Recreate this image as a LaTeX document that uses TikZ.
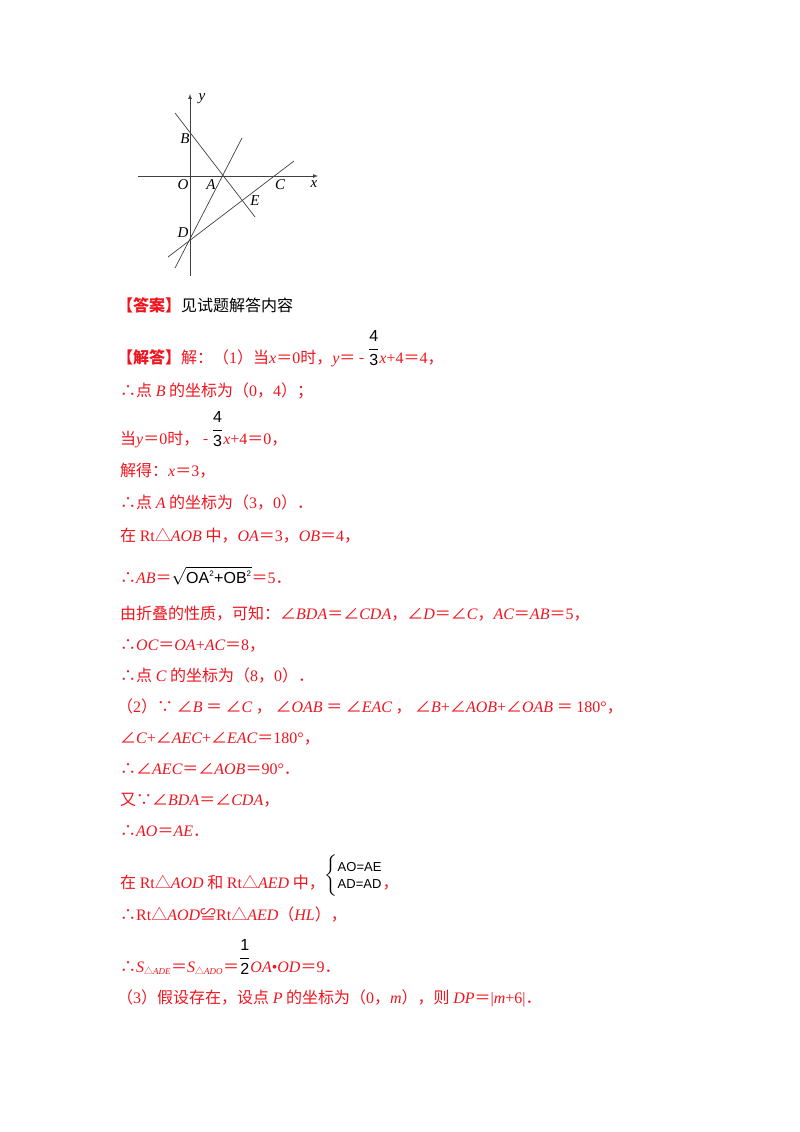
\documentclass[tikz,border=0pt]{standalone}
\usepackage{fontspec}
\usepackage{amsmath}
\setmainfont{Noto Sans CJK SC}
\newfontfamily\serif{Liberation Serif}
\newfontfamily\sfx{Liberation Sans}
\newcommand{\I}[1]{{\serif\itshape #1}}
\newcommand{\R}[1]{{\serif #1}}
\newcommand{\fr}[2]{\textcolor{black}{\raisebox{1.1ex}{$\dfrac{\text{\sfx #1}}{\text{\sfx #2}}$}}}
\definecolor{tred}{RGB}{240,20,30}
\begin{document}
\begin{tikzpicture}[x=1pt,y=-1pt,
  ln/.style={anchor=base west,inner sep=0pt,text=tred,font=\fontsize{16}{19}\selectfont},
  gl/.style={black!75,line width=0.7pt},
  lab/.style={font=\serif\itshape\fontsize{15}{16}\selectfont,inner sep=0pt}]
\useasboundingbox (0,0) rectangle (800,1132);
% graph
\coordinate (yb) at (190,276); \coordinate (yt) at (190,94);
\coordinate (xl) at (138,176); \coordinate (xr) at (318,176);
\draw[gl,-latex] (yb) -- (yt);
\draw[gl,-latex] (xl) -- (xr);
\coordinate (p1) at (175,113); \coordinate (p2) at (255,217);
\coordinate (p3) at (175,268); \coordinate (p4) at (242,138);
\coordinate (p5) at (168,257); \coordinate (p6) at (294,161);
\draw[gl] (p1) -- (p2);
\draw[gl] (p3) -- (p4);
\draw[gl] (p5) -- (p6);
\node[lab] (ly) at (202,99) {y};
\node[lab] (lB) at (185,139) {B};
\node[lab] (lO) at (183,185) {O};
\node[lab] (lA) at (211,185) {A};
\node[lab] (lC) at (280,185) {C};
\node[lab] (lx) at (314,184) {x};
\node[lab] (lE) at (255,201) {E};
\node[lab] (lD) at (183,233) {D};
% text
\node[ln] (t0) at (117,311) {\textbf{【答案】}\textcolor{black}{见试题解答内容}};
\node[ln] (t1) at (117,363) {\textbf{【解答】}解：（\R{1}）当\I{x}＝\R{0}时，\I{y}＝ - \fr{4}{3}\I{x}\R{+4}＝\R{4}，};
\node[ln] (t2) at (120,396) {∴点 \I{B} 的坐标为（\R{0}，\R{4}）；};
\node[ln] (t3) at (120,444) {当\I{y}＝\R{0}时， - \fr{4}{3}\I{x}\R{+4}＝\R{0}，};
\node[ln] (t4) at (120,476) {解得：\I{x}＝\R{3}，};
\node[ln] (t5) at (120,508) {∴点 \I{A} 的坐标为（\R{3}，\R{0}）．};
\node[ln] (t6) at (120,541) {在 \R{Rt}△\I{AOB} 中，\I{OA}＝\R{3}，\I{OB}＝\R{4}，};
\node[ln] (t7) at (120,583) {∴\I{AB}＝\textcolor{black}{$\sqrt{\text{\sfx OA}^{\text{\sfx\footnotesize 2}}\text{\sfx +OB}^{\text{\sfx\footnotesize 2}}}$}＝\R{5}．};
\node[ln] (t8) at (120,619) {由折叠的性质，可知：∠\I{BDA}＝∠\I{CDA}，∠\I{D}＝∠\I{C}，\I{AC}＝\I{AB}＝\R{5}，};
\node[ln] (t9) at (120,650) {∴\I{OC}＝\I{OA}\R{+}\I{AC}＝\R{8}，};
\node[ln] (t10) at (120,681) {∴点 \I{C} 的坐标为（\R{8}，\R{0}）．};
\node[ln] (t11) at (117,712) {（\R{2}）∵ ∠\I{B} ＝ ∠\I{C} ， ∠\I{OAB} ＝ ∠\I{EAC} ， ∠\I{B}\R{+}∠\I{AOB}\R{+}∠\I{OAB} ＝ \R{180°}，};
\node[ln] (t12) at (120,743) {∠\I{C}\R{+}∠\I{AEC}\R{+}∠\I{EAC}＝\R{180°}，};
\node[ln] (t13) at (120,774) {∴∠\I{AEC}＝∠\I{AOB}＝\R{90°}．};
\node[ln] (t14) at (120,805) {又∵∠\I{BDA}＝∠\I{CDA}，};
\node[ln] (t15) at (120,836) {∴\I{AO}＝\I{AE}．};
\node[ln] (t16) at (120,888) {在 \R{Rt}△\I{AOD} 和 \R{Rt}△\I{AED} 中，\textcolor{black}{\raisebox{0.9ex}{$\left\{\begin{array}{@{}l@{}}\text{\sfx\fontsize{13}{14}\selectfont AO=AE}\\[-2pt]\text{\sfx\fontsize{13}{14}\selectfont AD=AD}\end{array}\right.$}}，};
\node[ln] (t17) at (120,920) {∴\R{Rt}△\I{AOD}≌\R{Rt}△\I{AED}（\I{HL}），};
\node[ln] (t18) at (120,972) {∴\I{S}\textsubscript{\fontsize{9}{10}\selectfont △\I{ADE}}＝\I{S}\textsubscript{\fontsize{9}{10}\selectfont △\I{ADO}}＝\fr{1}{2}\I{OA}\R{•}\I{OD}＝\R{9}．};
\node[ln] (t19) at (117,1003) {（\R{3}）假设存在，设点 \I{P} 的坐标为（\R{0}，\I{m}），则 \I{DP}＝\R{|}\I{m}\R{+6|}．};
\end{tikzpicture}
\end{document}
